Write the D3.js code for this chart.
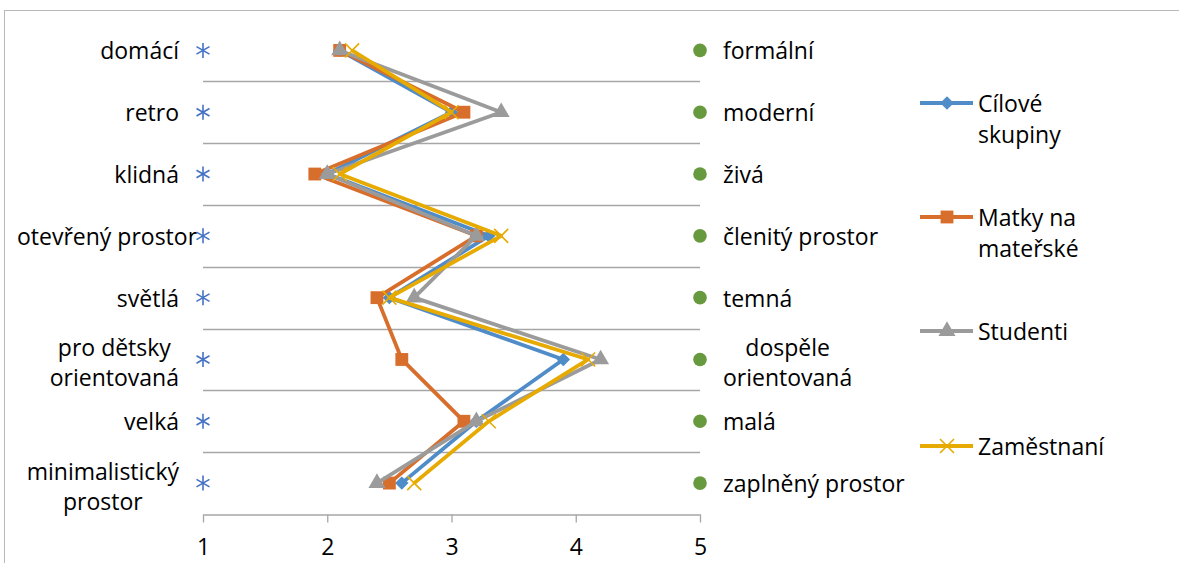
<!DOCTYPE html>
<html>
<head>
<meta charset="utf-8">
<script src="https://cdn.jsdelivr.net/npm/d3@7"></script>
<style>
  html, body { margin: 0; padding: 0; background: #fff; }
  svg { display: block; }
  text { font-family: "Open Sans", Lato, sans-serif; fill: #000; }
</style>
</head>
<body>
<svg id="chart" width="1179" height="563"></svg>
<script>
// Semantic differential: left-hand and right-hand adjective of each pair
const leftLabels = [
  ["domácí"], ["retro"], ["klidná"], ["otevřený prostor"],
  ["světlá"], ["pro dětsky", "orientovaná"], ["velká"], ["minimalistický", "prostor"]
];
const rightLabels = [
  ["formální"], ["moderní"], ["živá"], ["členitý prostor"],
  ["temná"], ["dospěle", "orientovaná"], ["malá"], ["zaplněný prostor"]
];
const rows = d3.range(leftLabels.length);

// Mean ratings (scale 1–5) per group, one value per pair
const seriesNames = [["Cílové", "skupiny"], ["Matky na", "mateřské"], ["Studenti"], ["Zaměstnaní"]];
const cilove     = [2.1, 3.0, 2.0, 3.3, 2.5, 3.9, 3.2, 2.6];
const matky      = [2.1, 3.1, 1.9, 3.2, 2.4, 2.6, 3.1, 2.5];
const studenti   = [2.1, 3.4, 2.0, 3.2, 2.7, 4.2, 3.2, 2.4];
const zamestnani = [2.2, 3.0, 2.1, 3.4, 2.5, 4.1, 3.3, 2.7];
const xTicks = [1, 2, 3, 4, 5];

const seriesValues = [cilove, matky, studenti, zamestnani];
const colors = ["#4f8cc8", "#d86e2b", "#9b9b9b", "#e6aa00"];
const symbols = [d3.symbolDiamond2, d3.symbolSquare, d3.symbolTriangle, "x"];

const svg = d3.select("#chart");

// Chart area border
svg.append("rect")
  .attr("x", 4.5).attr("y", 10.5)
  .attr("width", 1250).attr("height", 700)
  .attr("fill", "none").attr("stroke", "#b8b8b8").attr("stroke-width", 1);

const x = d3.scaleLinear().domain([1, 5]).range([203, 700]);
const y = d3.scaleBand().domain(rows).range([19.5, 514]).padding(0);
const yc = i => y(i) + y.bandwidth() / 2;

// Horizontal separators between pairs
svg.append("g").selectAll("line")
  .data(rows.slice(1))
  .join("line")
  .attr("x1", x(1)).attr("x2", x(5))
  .attr("y1", d => Math.round(y(d)) + 0.5).attr("y2", d => Math.round(y(d)) + 0.5)
  .attr("stroke", "#a6a6a6").attr("stroke-width", 1.3);

const fontSize = 23;
const lineGap = 30;

// Bottom axis
const axis = svg.append("g")
  .attr("transform", "translate(0,514.5)")
  .call(d3.axisBottom(x).tickValues(xTicks).tickFormat(d3.format("d")).tickSizeInner(8).tickSizeOuter(0).tickPadding(16));
axis.select(".domain").attr("stroke", "#a6a6a6").attr("stroke-width", 1.3);
axis.selectAll(".tick line").attr("stroke", "#a6a6a6").attr("stroke-width", 1.3);
axis.selectAll(".tick text")
  .attr("font-family", "\"Open Sans\", sans-serif").attr("font-size", fontSize).attr("fill", "#000");

// Left adjectives (right-aligned, multi-line blocks centred, kept inside the chart area)
const leftG = svg.append("g");
rows.forEach(i => {
  const lines = leftLabels[i];
  const c = yc(i) + (lines.length > 1 ? 3 : 0);
  const t = leftG.append("text")
    .attr("font-size", fontSize)
    .attr("dominant-baseline", "central");
  lines.forEach((s, k) => {
    t.append("tspan").attr("x", 0)
      .attr("y", c + (k - (lines.length - 1) / 2) * lineGap).text(s);
  });
  const spans = t.selectAll("tspan").nodes();
  const widths = spans.map(n => n.getComputedTextLength());
  const w = d3.max(widths);
  const left = Math.max(17, 179 - w);
  spans.forEach((n, k) => d3.select(n).attr("x", left + (w - widths[k]) / 2));
});

// Right adjectives (left-aligned, multi-line blocks centred)
const rightG = svg.append("g");
rows.forEach(i => {
  const lines = rightLabels[i];
  const c = yc(i) + (lines.length > 1 ? 3 : 0);
  const t = rightG.append("text")
    .attr("font-size", fontSize)
    .attr("dominant-baseline", "central");
  lines.forEach((s, k) => {
    t.append("tspan").attr("x", 0)
      .attr("y", c + (k - (lines.length - 1) / 2) * lineGap).text(s);
  });
  const spans = t.selectAll("tspan").nodes();
  const widths = spans.map(n => n.getComputedTextLength());
  const w = d3.max(widths);
  spans.forEach((n, k) => d3.select(n).attr("x", 723 + (w - widths[k]) / 2));
});

// Pole markers: asterisk at 1, circle at 5
const asterisk = svg.append("g").selectAll("g")
  .data(rows).join("g")
  .attr("transform", d => `translate(${x(1)},${yc(d)})`);
[0, 60, 120].forEach(a => {
  asterisk.append("line")
    .attr("x1", 0).attr("y1", -7.5).attr("x2", 0).attr("y2", 7.5)
    .attr("transform", `rotate(${a})`)
    .attr("stroke", "#4472c4").attr("stroke-width", 1.6);
});
svg.append("g").selectAll("circle")
  .data(rows).join("circle")
  .attr("cx", x(5)).attr("cy", d => yc(d)).attr("r", 6.8)
  .attr("fill", "#67993f");

// Marker drawing helper
function drawMarker(sel, k, size) {
  if (symbols[k] === "x") {
    const h = size / 2;
    sel.append("path")
      .attr("d", `M${-h},${-h}L${h},${h}M${-h},${h}L${h},${-h}`)
      .attr("stroke", colors[k]).attr("stroke-width", 1.6).attr("fill", "none");
  } else {
    const area = k === 1 ? 165 : k === 2 ? 125 : 115;
    sel.append("path")
      .attr("d", d3.symbol().type(symbols[k]).size(area)())
      .attr("fill", colors[k]);
  }
}

// Series lines and markers
const line = d3.line().x(d => x(d.v)).y(d => yc(d.i));
seriesValues.forEach((vals, k) => {
  const pts = vals.map((v, i) => ({ v, i }));
  const g = svg.append("g");
  g.append("path").datum(pts)
    .attr("d", line)
    .attr("fill", "none").attr("stroke", colors[k])
    .attr("stroke-width", 3.8).attr("stroke-linejoin", "round");
  g.selectAll("g.m").data(pts).join("g").attr("class", "m")
    .attr("transform", d => `translate(${x(d.v)},${yc(d.i)})`)
    .each(function () { drawMarker(d3.select(this), k, 14); });
});

// Legend
const legendY = [103, 217, 331, 446];
seriesNames.forEach((name, k) => {
  const g = svg.append("g").attr("transform", `translate(0,${legendY[k]})`);
  g.append("line").attr("x1", 920).attr("x2", 973).attr("y1", 0).attr("y2", 0)
    .attr("stroke", colors[k]).attr("stroke-width", 3.8);
  const m = g.append("g").attr("transform", "translate(947,0)");
  drawMarker(m, k, 14);
  const t = g.append("text").attr("font-size", fontSize).attr("dominant-baseline", "central");
  name.forEach((s, j) => t.append("tspan").attr("x", 978).attr("y", j * 31).text(s));
});
</script>
</body>
</html>
